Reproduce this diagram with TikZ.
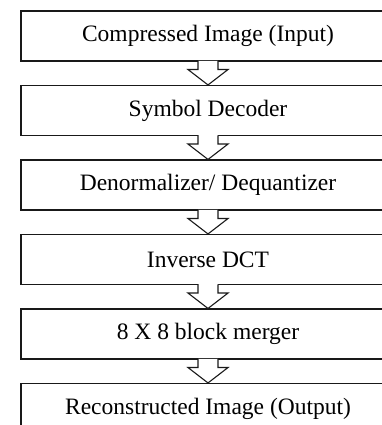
\documentclass[tikz,border=0pt]{standalone}
\usepackage{fontspec}
\setmainfont{Liberation Serif}
\usetikzlibrary{calc}
\tikzset{
  stagebox/.style={draw=black!90, line width=1.1pt, fill=white, minimum width=374pt, minimum height=50pt, inner sep=0pt, font=\fontsize{23.5}{27}\selectfont, anchor=center},
  blockarr/.style={draw=black!90, line width=1.1pt, fill=white, line join=miter}
}
\newcommand{\flowarrow}[2]{%
  \fill[white] ([xshift=-9.5pt,yshift=0.8pt]#1.south) rectangle ([xshift=9.5pt,yshift=-8pt]#1.south);
  \draw[blockarr] ([xshift=-10pt,yshift=0.6pt]#1.south) -- ([xshift=-10pt,yshift=-8pt]#1.south) -- ([xshift=-20pt,yshift=-8pt]#1.south) -- (#2.north) -- ([xshift=20pt,yshift=-8pt]#1.south) -- ([xshift=10pt,yshift=-8pt]#1.south) -- ([xshift=10pt,yshift=0.6pt]#1.south);
}
\begin{document}
\begin{tikzpicture}[x=1pt,y=1pt]
\useasboundingbox (0,0) rectangle (382,425);
\clip (0,0) rectangle (382,425);
\fill[white] (0,0) rectangle (382,425);
\node[stagebox] (b1) at (208,389) {Compressed Image (Input)};
\node[stagebox] (b2) at (208,314.5) {Symbol Decoder};
\node[stagebox] (b3) at (208,240) {Denormalizer/ Dequantizer};
\node[stagebox] (b4) at (208,165.5) {Inverse DCT};
\node[stagebox] (b5) at (208,91) {8 X 8 block merger};
\node[stagebox] (b6) at (208,16.5) {Reconstructed Image (Output)};
\flowarrow{b1}{b2}
\flowarrow{b2}{b3}
\flowarrow{b3}{b4}
\flowarrow{b4}{b5}
\flowarrow{b5}{b6}
\end{tikzpicture}
\end{document}
